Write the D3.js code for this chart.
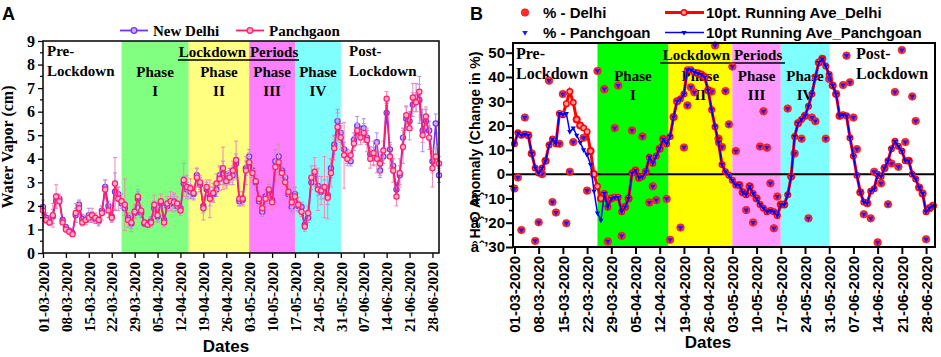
<html>
<head>
<style>
  body{margin:0;background:#fff}
  svg text{font-family:"Liberation Serif","Times New Roman",serif;font-weight:bold;fill:#000}
  svg text.sans{font-family:"Liberation Sans",Arial,sans-serif}
  .frame{fill:none;stroke:#000}
</style>
</head>
<body>
<div id="chart"></div>
<script src="https://d3js.org/d3.v7.min.js"></script>
<script>
(function () {

  // ---------- data ----------
  var startDay = '01-03-2020';
  var tickLabels = ['01-03-2020','08-03-2020','15-03-2020','22-03-2020','29-03-2020','05-04-2020',
    '12-04-2020','19-04-2020','26-04-2020','03-05-2020','10-05-2020','17-05-2020','24-05-2020',
    '31-05-2020','07-06-2020','14-06-2020','21-06-2020','28-06-2020'];

  var phaseNames = ['I', 'II', 'III', 'IV'];
  var phaseStart = ['25-03-2020 00', '14-04-2020 12', '03-05-2020 00', '17-05-2020 00'];
  var phaseEnd   = ['14-04-2020 12', '03-05-2020 00', '17-05-2020 00', '31-05-2020 00'];

  // panel A : water vapour (cm), one value per day from 01-03-2020
  var wvPanch = [1.8,1.4,1.3,1.6,2.4,2.2,1.3,1.0,0.9,0.8,1.7,1.9,1.3,1.4,1.5,1.6,1.5,1.4,1.7,2.7,1.8,1.5,2.95,2.3,
    2.2,2.05,1.4,1.3,1.75,2.4,1.8,1.3,1.2,1.3,2.05,1.6,2.2,1.3,2.1,2.2,2.15,2.1,1.8,3.1,2.8,
    2.75,2.55,3.2,3.0,1.9,2.8,2.3,2.55,2.95,3.15,3.6,3.05,3.2,3.5,3.95,2.3,2.3,3.5,3.85,
    3.4,3.05,2.3,1.9,2.3,2.7,2.15,3.65,3.85,3.4,3.0,2.6,2.15,2.4,
    2.05,1.75,1.12,1.7,3.2,3.45,2.7,2.65,2.8,2.35,3.4,4.45,5.35,4.9,
    4.15,4.0,4.15,4.65,5.2,4.9,5.1,4.8,4.0,4.25,4.0,3.8,4.35,6.55,4.1,3.5,2.4,3.4,4.5,5.85,5.3,6.6,6.4,6.85,5.0,5.8,4.9,3.6,4.1,3.8];
  var wvDelhi = [1.95,1.5,1.3,1.55,2.2,2.3,1.4,1.1,0.95,0.85,1.6,2.05,1.45,1.4,1.6,1.55,1.45,1.35,1.8,2.8,2.0,1.55,2.6,2.5,
    2.1,1.9,1.5,1.25,1.7,2.3,1.7,1.25,1.25,1.35,1.9,1.55,2.1,1.4,2.0,2.1,2.2,2.0,1.9,2.95,2.7,
    2.6,2.5,3.3,2.9,2.0,2.7,2.4,2.5,2.7,3.3,3.4,3.15,3.3,3.3,3.8,2.2,2.25,3.6,4.1,
    3.5,3.0,2.2,1.75,2.4,2.6,2.25,3.9,4.1,3.5,3.2,2.5,1.95,2.5,
    2.0,1.95,1.2,1.5,3.0,3.3,2.85,2.6,2.7,2.45,3.6,4.6,5.6,5.1,
    4.4,4.1,3.9,4.8,5.4,5.1,5.3,4.9,4.2,4.1,4.7,3.5,4.1,5.95,4.4,3.7,2.7,3.3,4.9,5.7,5.6,6.3,6.6,6.5,5.2,5.6,5.2,3.9,5.5,3.3];
  var errPanch = [.2,.15,.1,.5,.5,.2,.1,.1,.1,.1,.4,.3,.15,.2,.2,.3,.2,.15,.3,.4,.3,.2,1.1,.5,
    .3,1.1,.3,.4,.3,.3,.2,.1,.1,.2,.4,.3,.3,.2,.3,.4,.4,.3,.2,.7,.5,
    .4,.3,.4,.3,.5,.3,.8,.4,.4,.5,.9,.3,.3,.4,.8,.3,.3,.6,.4,
    .4,.5,.3,.3,.3,.4,.3,.7,.8,.4,.3,.3,.3,.4,
    .3,.2,.2,.3,.5,.6,.9,.6,1.3,.9,.6,.5,.6,.5,
    1.4,.3,.2,.3,.3,.3,.4,.5,.4,.5,.6,.5,.4,.3,.5,.5,.4,.6,.7,.4,.5,.6,.4,.3,.3,.4,.5,.8,.4,.3];
  var errDelhi = [.3,.2,.1,.3,.3,.2,.1,.1,.1,.1,.3,.2,.2,.2,.3,.2,.2,.2,.2,.3,.2,.2,.8,.3,
    .2,.3,.2,.2,.2,.3,.2,.1,.1,.2,.3,.2,.2,.2,.2,.3,.3,.2,.2,.3,.3,
    .3,.2,.3,.3,.3,.3,.4,.3,.3,.4,.5,.3,.3,.4,.4,.2,.2,.3,.3,
    .3,.3,.2,.2,.3,.3,.2,.5,.5,.3,.3,.2,.2,.3,
    .2,.2,.2,.2,.3,.4,.4,.3,.4,.4,.4,.4,.5,.4,
    .3,.3,.2,.3,.4,.3,.4,.3,.3,.4,.4,.3,.3,.4,.3,.3,.3,.4,.4,.5,.4,.5,.6,1.0,.9,.5,.4,.5,.4,.3];

  // panel B : H2O anomaly (%)
  var pctDelhi = [-5.9,-1.4,-23,23.3,16,8.5,-27.5,-19.8,0,5.5,
    38.5,-11.5,-15.8,12.5,33,-20.2,1,13.2,22.5,20,
    15,-6.8,9.5,0,42.5,-10,35,-27.7,-10,19,
    36.5,-25.4,-13.5,-10,18,1.5,-1.5,15.5,1,-11.7,
    -5,-10.7,10.5,14.5,-10.2,-27,23.5,30,-22,11,
    28.3,35.8,33.7,41.5,41,40,34.5,34,53,14.6,
    11.2,34.2,20.5,44.3,9.5,-4.5,-7.5,-14.8,-5,-19.9,
    -10,11.4,25.9,10.9,-3.8,-22.3,-9.2,-12.5,-12.5,27,
    -1,8.5,21,14.6,24,-18.2,23.3,21.8,46,47.5,
    14.6,39.2,36.5,33,24,36.7,48.8,37.8,23.3,10.3,
    -7.5,-16.5,-12,-18.2,1,-28.1,-3.8,2.5,-12.4,4.4,
    33.8,3,51.1,13.2,5.5,32,21.9,-5.5,-8,-26.8,
    -14,-13];
  var pctPanch = [-5.9,-1.4,-23,23.3,16,8.5,-27.5,-19.8,0,5.5,
    38.5,-11.5,-15.8,12.5,33,-20.2,1,13.2,22.5,20,
    15,-6.8,9.5,0,42.5,-10,35,-27.7,-10,19,
    36.5,-25.4,-13.5,-10,18,1.5,-1.5,15.5,1,-11.7,
    -5,-10.7,10.5,14.5,-10.2,-27,23.5,30,-22,11,
    28.3,35.8,33.7,41.5,41,40,34.5,34,53,14.6,
    11.2,34.2,20.5,44.3,9.5,-4.5,-7.5,-14.8,-5,-19.9,
    -10,11.4,25.9,10.9,-3.8,-22.3,-9.2,-12.5,-12.5,27,
    -1,8.5,21,14.6,24,-18.2,23.3,21.8,46,47.5,
    14.6,39.2,36.5,33,24,36.7,48.8,37.8,23.3,10.3,
    -7.5,-16.5,-12,-18.2,1,-28.1,-3.8,2.5,-12.4,4.4,
    33.8,3,51.1,13.2,5.5,32,21.9,-5.5,-8,-26.8,
    -14,-13];
  var raDelhi = [12.5,17,16,16.5,16,8.5,2.5,0.5,2.5,5.5,
    12,14.5,12.5,25,24.5,29,34,29.5,22.5,20,
    19,17.5,9.5,0,-5,-10,-8,-13.5,-10,-9.5,
    -9.5,-15.5,-13.5,-10,0.5,1.5,-1.5,-1,1,7,
    4.5,7.5,10.5,14.5,12.5,15.5,23.5,30,31,33,
    43,43,42,41.5,41,40,34.5,26.5,19.5,13,
    4,1,-0.5,-2.5,-4.5,-4.5,-7.5,-8.5,-5,-8,
    -10,-12.5,-14,-15.5,-15,-15.5,-17,-12.5,-12.5,-8.5,
    -1,15.5,21,22.5,24,28,33,40,46,47.5,
    44.5,41,36.5,33,24,24.5,24,15,7.5,-0.5,
    -7.5,-11.5,-12,-7,-6,0,-1,2.5,5.5,10.5,
    13.5,11.5,9.5,5.5,5.5,0,-2,-5.5,-8,-15.5,
    -14,-13];
  var raPanch = [12.5,17,16,16.5,16,8.5,2.5,0.5,2.5,5.5,
    12,14.5,12.5,25,24.5,25,17.5,19,16,13,
    10,8,4,-7,-16,-19,-8,-13.5,-10,-9.5,
    -9.5,-15.5,-13.5,-10,0.5,1.5,-1.5,-1,1,7,
    4.5,7.5,10.5,14.5,12.5,15.5,23.5,30,31,33,
    43,43,42,41.5,41,40,34.5,26.5,19.5,13,
    4,1,-0.5,-2.5,-4.5,-4.5,-7.5,-8.5,-5,-8,
    -10,-12.5,-14,-15.5,-15,-15.5,-17,-12.5,-12.5,-8.5,
    -1,15.5,21,22.5,24,28,33,40,46,47.5,
    44.5,41,36.5,33,24,24.5,24,15,7.5,-0.5,
    -7.5,-11.5,-12,-7,-6,0,-1,2.5,5.5,10.5,
    13.5,11.5,9.5,5.5,5.5,0,-2,-5.5,-8,-15.5,
    -14,-13];

  var yTicksA = [0,1,2,3,4,5,6,7,8,9];
  var yTicksB = [-30,-20,-10,0,10,20,30,40,50];

  // ---------- helpers ----------
  var parseDay  = d3.utcParse('%d-%m-%Y'),
      parseHour = d3.utcParse('%d-%m-%Y %H'),
      fmt       = d3.utcFormat('%d-%m-%Y'),
      day0      = parseDay(startDay),
      ticks     = tickLabels.map(parseDay);

  function dayOf(i) { return d3.utcDay.offset(day0, i); }

  var phases = phaseNames.map(function (n, i) {
    return {name: n, start: parseHour(phaseStart[i]), end: parseHour(phaseEnd[i])};
  });

  var svg = d3.select('#chart').append('svg')
    .attr('width', 941)
    .attr('height', 357);

  function triangle(size) {
    return d3.symbol().type(d3.symbolTriangle).size(size)();
  }

  // =====================================================
  // PANEL A
  // =====================================================
  var A  = {left: 43, right: 439, top: 41, bottom: 253},
      xA = d3.scaleUtc().domain([day0, dayOf(121)]).range([A.left, A.right]),
      yA = d3.scaleLinear().domain([0, 9]).range([A.bottom, A.top]),
      gA = svg.append('g'),
      shadeA = ['#80ff80', '#ffff80', '#ff80ff', '#80ffff'];

  gA.selectAll('rect.phase').data(phases).enter().append('rect')
    .attr('class', 'phase')
    .attr('x', function (d) { return xA(d.start); })
    .attr('width', function (d) { return xA(d.end) - xA(d.start); })
    .attr('y', A.top)
    .attr('height', A.bottom - A.top)
    .attr('fill', function (d, i) { return shadeA[i]; });

  function seriesA(values, errs, col, errCol, fillCol) {
    var pts = values.map(function (v, i) { return {d: dayOf(i), v: v, e: errs[i]}; });
    var g = gA.append('g');
    var eb = g.selectAll('g.err').data(pts).enter().append('g')
      .attr('stroke', errCol).attr('stroke-width', 1);
    eb.append('line')
      .attr('x1', function (p) { return xA(p.d); })
      .attr('x2', function (p) { return xA(p.d); })
      .attr('y1', function (p) { return yA(p.v - p.e); })
      .attr('y2', function (p) { return yA(p.v + p.e); });
    eb.append('line')
      .attr('x1', function (p) { return xA(p.d) - 2; })
      .attr('x2', function (p) { return xA(p.d) + 2; })
      .attr('y1', function (p) { return yA(p.v + p.e); })
      .attr('y2', function (p) { return yA(p.v + p.e); });
    eb.append('line')
      .attr('x1', function (p) { return xA(p.d) - 2; })
      .attr('x2', function (p) { return xA(p.d) + 2; })
      .attr('y1', function (p) { return yA(p.v - p.e); })
      .attr('y2', function (p) { return yA(p.v - p.e); });
    g.append('path')
      .attr('d', d3.line().x(function (p) { return xA(p.d); }).y(function (p) { return yA(p.v); })(pts))
      .attr('fill', 'none').attr('stroke', col).attr('stroke-width', 1.6);
    g.selectAll('circle').data(pts).enter().append('circle')
      .attr('cx', function (p) { return xA(p.d); })
      .attr('cy', function (p) { return yA(p.v); })
      .attr('r', 2.6)
      .attr('fill', fillCol).attr('stroke', col).attr('stroke-width', 1.2);
  }
  seriesA(wvDelhi, errDelhi, '#7a2ff2', '#a98af3', '#c9b3ff');
  seriesA(wvPanch, errPanch, '#ff1f6e', '#f08ab0', '#ffb3cc');

  gA.append('rect').attr('class', 'frame')
    .attr('x', A.left).attr('y', A.top)
    .attr('width', A.right - A.left).attr('height', A.bottom - A.top)
    .attr('stroke-width', 1.5);

  // y axis A
  var axA = gA.append('g').attr('transform', 'translate(' + A.left + ',0)')
    .call(d3.axisLeft(yA).tickValues(yTicksA).tickSize(5).tickSizeOuter(0).tickPadding(3));
  axA.select('.domain').remove();
  axA.selectAll('line').attr('stroke-width', 1.3);
  axA.selectAll('text').style('font-size', '16px').style('font-family', '"Liberation Serif",serif').style('font-weight', 'bold');
  gA.append('g').selectAll('line').data(d3.range(0.5, 9, 1)).enter().append('line')
    .attr('x1', A.left - 3).attr('x2', A.left)
    .attr('y1', function (d) { return yA(d); }).attr('y2', function (d) { return yA(d); })
    .attr('stroke', '#000').attr('stroke-width', 1.2);

  // x axis A
  var bxA = gA.append('g').attr('transform', 'translate(0,' + A.bottom + ')')
    .call(d3.axisBottom(xA).tickValues(ticks).tickFormat(fmt).tickSize(5).tickSizeOuter(0));
  bxA.select('.domain').remove();
  bxA.selectAll('line').attr('stroke-width', 1.3);
  bxA.selectAll('text')
    .attr('transform', 'rotate(-90)')
    .attr('x', -9).attr('y', 0).attr('dy', '0.35em')
    .style('text-anchor', 'end')
    .style('font-size', '15px').style('font-family', '"Liberation Serif",serif').style('font-weight', 'bold');

  gA.append('text').attr('class', 'sans')
    .attr('x', 226).attr('y', 352).attr('text-anchor', 'middle')
    .style('font-size', '17px').text('Dates');
  gA.append('text')
    .attr('transform', 'translate(13,' + ((A.top + A.bottom) / 2) + ') rotate(-90)')
    .attr('text-anchor', 'middle').style('font-size', '16px')
    .text('Water Vapor (cm)');
  gA.append('text').attr('class', 'sans')
    .attr('x', 2).attr('y', 20).style('font-size', '18px').text('A');

  // period labels inside a panel
  function periodLabels(g, xs, top, base, bigSize, phaseSize, preX, postX, periodsCx, periodsHalf) {
    g.append('text').attr('x', preX).attr('y', base).style('font-size', bigSize + 'px').text('Pre-');
    g.append('text').attr('x', preX).attr('y', base + 20).style('font-size', bigSize + 'px').text('Lockdown');
    g.append('text').attr('x', postX).attr('y', base).style('font-size', bigSize + 'px').text('Post-');
    g.append('text').attr('x', postX).attr('y', base + 20).style('font-size', bigSize + 'px').text('Lockdown');
    g.append('text').attr('x', periodsCx).attr('y', base + 1).attr('text-anchor', 'middle')
      .style('font-size', '15px').text('Lockdown Periods');
    g.append('line')
      .attr('x1', periodsCx - periodsHalf).attr('x2', periodsCx + periodsHalf)
      .attr('y1', base + 4).attr('y2', base + 4)
      .attr('stroke', '#000').attr('stroke-width', 1.5);
    var ph = g.selectAll('g.ph').data(phases).enter().append('g');
    ph.append('text')
      .attr('x', function (d) { return (xs(d.start) + xs(d.end)) / 2; })
      .attr('y', base + 21 + top).attr('text-anchor', 'middle')
      .style('font-size', phaseSize + 'px').text('Phase');
    ph.append('text')
      .attr('x', function (d) { return (xs(d.start) + xs(d.end)) / 2; })
      .attr('y', base + 40 + top).attr('text-anchor', 'middle')
      .style('font-size', phaseSize + 'px').text(function (d) { return d.name; });
  }
  periodLabels(gA, xA, 0, 56, 15, 15, 47, 349, 238.5, 60.5);

  // legend A
  var legA = [{name: 'New Delhi', col: '#7a2ff2', fill: '#c9b3ff', x: 120},
              {name: 'Panchgaon', col: '#ff1f6e', fill: '#ffb3cc', x: 236}];
  var lg = gA.selectAll('g.leg').data(legA).enter().append('g');
  lg.append('line')
    .attr('x1', function (d) { return d.x; }).attr('x2', function (d) { return d.x + 28; })
    .attr('y1', 30.5).attr('y2', 30.5)
    .attr('stroke', function (d) { return d.col; }).attr('stroke-width', 1.8);
  lg.append('circle')
    .attr('cx', function (d) { return d.x + 14; }).attr('cy', 30.5).attr('r', 2.8)
    .attr('fill', function (d) { return d.fill; }).attr('stroke', function (d) { return d.col; }).attr('stroke-width', 1.3);
  lg.append('text')
    .attr('x', function (d) { return d.x + 33; }).attr('y', 35.5)
    .style('font-size', '15px').text(function (d) { return d.name; });

  // =====================================================
  // PANEL B
  // =====================================================
  var B  = {left: 513, right: 935, top: 43, bottom: 247},
      xB = d3.scaleUtc()
        .domain([d3.utcHour.offset(day0, -10), d3.utcHour.offset(day0, 121 * 24 + 14)])
        .range([B.left, B.right]),
      yB = d3.scaleLinear().domain([-30, 54]).range([B.bottom, B.top]),
      gB = svg.append('g'),
      shadeB = ['#00ff00', '#ffff00', '#ff99ff', '#80ffff'];

  gB.selectAll('rect.phase').data(phases).enter().append('rect')
    .attr('class', 'phase')
    .attr('x', function (d) { return xB(d.start); })
    .attr('width', function (d) { return xB(d.end) - xB(d.start); })
    .attr('y', B.top)
    .attr('height', B.bottom - B.top)
    .attr('fill', function (d, i) { return shadeB[i]; });

  periodLabels(gB, xB, 1, 59, 16, 15, 516, 856, 722.5, 62.5);

  gB.append('line')
    .attr('x1', B.left).attr('x2', B.right)
    .attr('y1', yB(0)).attr('y2', yB(0))
    .attr('stroke', '#000').attr('stroke-width', 2);

  function pts(values) {
    return values.map(function (v, i) { return {d: dayOf(i), v: v}; });
  }
  var lineB = d3.line()
    .x(function (p) { return xB(p.d); })
    .y(function (p) { return yB(p.v); });

  // raw percentages
  gB.append('g').selectAll('circle').data(pts(pctDelhi)).enter().append('circle')
    .attr('cx', function (p) { return xB(p.d); })
    .attr('cy', function (p) { return yB(p.v); })
    .attr('r', 3.8)
    .attr('fill', '#ff2b2b').attr('stroke', '#e01010').attr('stroke-width', 0.6);
  gB.append('g').selectAll('path').data(pts(pctPanch)).enter().append('path')
    .attr('d', triangle(13))
    .attr('transform', function (p) { return 'translate(' + xB(p.d) + ',' + yB(p.v) + ') rotate(180)'; })
    .attr('fill', '#1a1aff');

  // running averages
  gB.append('path').attr('d', lineB(pts(raDelhi)))
    .attr('fill', 'none').attr('stroke', '#ff0000').attr('stroke-width', 3);
  gB.append('g').selectAll('circle').data(pts(raDelhi)).enter().append('circle')
    .attr('cx', function (p) { return xB(p.d); })
    .attr('cy', function (p) { return yB(p.v); })
    .attr('r', 2.8)
    .attr('fill', '#ff9a9a').attr('stroke', '#ff0000').attr('stroke-width', 1.4);
  gB.append('path').attr('d', lineB(pts(raPanch)))
    .attr('fill', 'none').attr('stroke', '#0000ff').attr('stroke-width', 1.5);
  gB.append('g').selectAll('path').data(pts(raPanch)).enter().append('path')
    .attr('d', triangle(12))
    .attr('transform', function (p) { return 'translate(' + xB(p.d) + ',' + yB(p.v) + ') rotate(180)'; })
    .attr('fill', '#0000ff');

  gB.append('rect').attr('class', 'frame')
    .attr('x', B.left).attr('y', B.top)
    .attr('width', B.right - B.left).attr('height', B.bottom - B.top)
    .attr('stroke-width', 2);

  // y axis B
  var axB = gB.append('g').attr('transform', 'translate(' + B.left + ',0)')
    .call(d3.axisLeft(yB).tickValues(yTicksB).tickSize(7).tickSizeOuter(0).tickPadding(1));
  axB.select('.domain').remove();
  axB.selectAll('line').attr('stroke-width', 2);
  axB.selectAll('text').style('font-size', '15px').style('font-family', '"Liberation Sans",Arial,sans-serif').style('font-weight', 'bold');
  gB.append('g').selectAll('line').data(d3.range(-25, 54, 10)).enter().append('line')
    .attr('x1', B.left - 4).attr('x2', B.left)
    .attr('y1', function (d) { return yB(d); }).attr('y2', function (d) { return yB(d); })
    .attr('stroke', '#000').attr('stroke-width', 1.6);

  // x axis B
  var bxB = gB.append('g').attr('transform', 'translate(0,' + B.bottom + ')')
    .call(d3.axisBottom(xB).tickValues(ticks).tickFormat(fmt).tickSize(7).tickSizeOuter(0));
  bxB.select('.domain').remove();
  bxB.selectAll('line').attr('stroke-width', 2);
  bxB.selectAll('text')
    .attr('transform', 'rotate(-90)')
    .attr('x', -9).attr('y', 0).attr('dy', '0.35em')
    .style('text-anchor', 'end')
    .style('font-size', '15px').style('font-family', '"Liberation Sans",Arial,sans-serif').style('font-weight', 'bold');

  gB.append('text').attr('class', 'sans')
    .attr('x', 708).attr('y', 348).attr('text-anchor', 'middle')
    .style('font-size', '17px').text('Dates');

  gB.append('text').attr('class', 'sans')
    .attr('transform', 'translate(480,' + ((B.top + B.bottom) / 2) + ') rotate(-90)')
    .attr('text-anchor', 'middle').style('font-size', '14px')
    .text('H\u2082O Anomaly (Change in %)');

  gB.append('text').attr('class', 'sans')
    .attr('x', 470).attr('y', 20).style('font-size', '18px').text('B');

  // legend B
  var rowY = [12.5, 32.5];
  gB.append('circle').attr('cx', 525).attr('cy', rowY[0]).attr('r', 3.8)
    .attr('fill', '#ff2b2b').attr('stroke', '#e01010').attr('stroke-width', 0.6);
  gB.append('path').attr('d', triangle(13))
    .attr('transform', 'translate(525,' + rowY[1] + ') rotate(180)').attr('fill', '#1a1aff');
  gB.append('line').attr('x1', 665).attr('x2', 704).attr('y1', rowY[0]).attr('y2', rowY[0])
    .attr('stroke', '#ff0000').attr('stroke-width', 3);
  gB.append('circle').attr('cx', 684).attr('cy', rowY[0]).attr('r', 2.8)
    .attr('fill', '#ff9a9a').attr('stroke', '#ff0000').attr('stroke-width', 1.4);
  gB.append('line').attr('x1', 665).attr('x2', 704).attr('y1', rowY[1]).attr('y2', rowY[1])
    .attr('stroke', '#0000ff').attr('stroke-width', 1.5);
  gB.append('path').attr('d', triangle(12))
    .attr('transform', 'translate(684,' + rowY[1] + ') rotate(180)').attr('fill', '#0000ff');

  var legTexts = [
    {t: '% - Delhi', x: 543, y: rowY[0] + 5},
    {t: '% - Panchgoan', x: 543, y: rowY[1] + 5},
    {t: '10pt. Running Ave_Delhi', x: 706, y: rowY[0] + 5},
    {t: '10pt Running Ave_Panchgoan', x: 706, y: rowY[1] + 5}
  ];
  gB.selectAll('text.leg').data(legTexts).enter().append('text')
    .attr('class', 'sans')
    .attr('x', function (d) { return d.x; })
    .attr('y', function (d) { return d.y; })
    .style('font-size', '15px')
    .text(function (d) { return d.t; });

})();
</script>
</body>
</html>
